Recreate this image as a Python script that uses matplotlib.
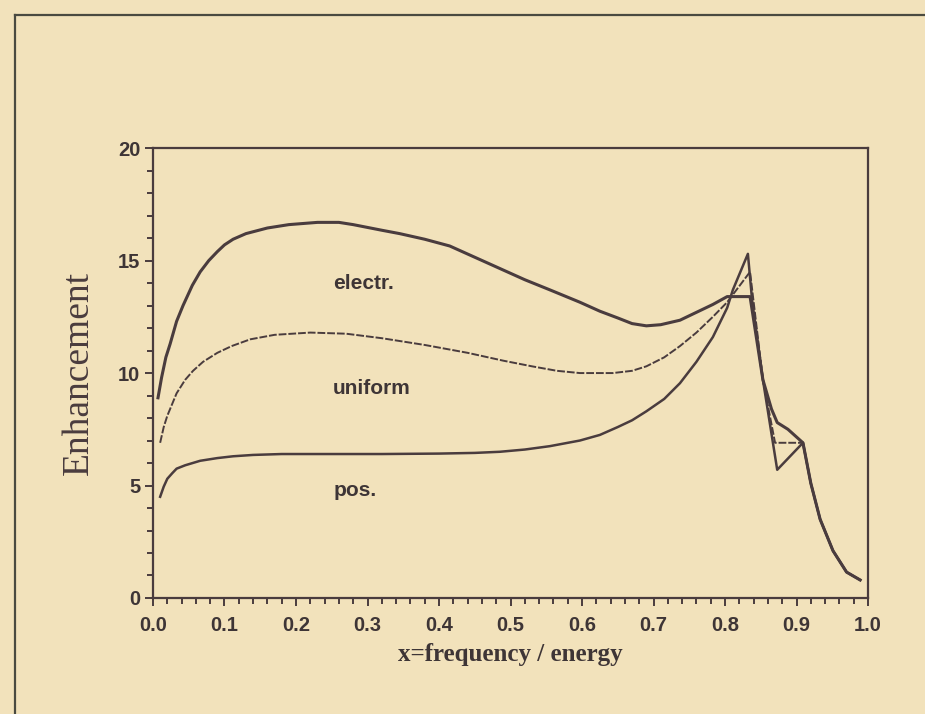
import matplotlib
matplotlib.use("Agg")
import matplotlib.pyplot as plt
from matplotlib.lines import Line2D

# values
electr_x = [0.007, 0.012, 0.018, 0.024, 0.033, 0.042, 0.055, 0.066, 0.078, 0.09, 0.1, 0.112,
            0.13, 0.16, 0.19, 0.23, 0.26, 0.28, 0.32, 0.345, 0.38, 0.415, 0.45, 0.485, 0.52,
            0.555, 0.597, 0.625, 0.65, 0.67, 0.69, 0.71, 0.737, 0.76, 0.783, 0.803,
            0.835, 0.853, 0.865, 0.873, 0.888, 0.909]
electr_y = [8.9, 9.8, 10.7, 11.3, 12.3, 13.0, 13.9, 14.5, 15.0, 15.4, 15.7, 15.95,
            16.2, 16.45, 16.6, 16.7, 16.7, 16.6, 16.35, 16.2, 15.95, 15.65, 15.15, 14.65, 14.15,
            13.7, 13.15, 12.75, 12.45, 12.2, 12.1, 12.15, 12.35, 12.7, 13.05, 13.4,
            13.4, 9.7, 8.4, 7.8, 7.5, 6.9]

uniform_x = [0.01, 0.015, 0.02, 0.033, 0.045, 0.056, 0.07, 0.09, 0.11, 0.136, 0.17, 0.22,
             0.27, 0.32, 0.38, 0.44, 0.49, 0.53, 0.565, 0.597, 0.643, 0.67, 0.69, 0.715,
             0.737, 0.76, 0.783, 0.803, 0.835, 0.853, 0.87, 0.909]
uniform_y = [6.9, 7.6, 8.1, 9.1, 9.7, 10.1, 10.5, 10.9, 11.2, 11.5, 11.7, 11.8,
             11.75, 11.55, 11.25, 10.9, 10.55, 10.3, 10.1, 10.0, 10.0, 10.1, 10.3, 10.7,
             11.2, 11.8, 12.5, 13.15, 14.5, 9.7, 6.9, 6.9]

pos_x = [0.01, 0.015, 0.02, 0.027, 0.033, 0.045, 0.066, 0.09, 0.112, 0.14, 0.18, 0.25,
         0.32, 0.4, 0.45, 0.485, 0.52, 0.555, 0.597, 0.625, 0.65, 0.67, 0.69, 0.715,
         0.737, 0.76, 0.783, 0.803, 0.811, 0.832, 0.838, 0.853, 0.873, 0.909]
pos_y = [4.5, 4.95, 5.3, 5.55, 5.75, 5.9, 6.1, 6.22, 6.3, 6.36, 6.4, 6.4,
         6.4, 6.42, 6.45, 6.5, 6.6, 6.75, 7.0, 7.25, 7.6, 7.9, 8.3, 8.85,
         9.55, 10.5, 11.6, 12.9, 13.7, 15.3, 13.2, 9.7, 5.7, 6.9]

# common tail after x~0.91
tail_x = [0.92, 0.933, 0.951, 0.97, 0.989]
tail_y = [5.1, 3.5, 2.1, 1.15, 0.8]

labels = ["electr.", "uniform", "pos."]
label_pos = [(0.252, 14.0), (0.252, 9.3), (0.252, 4.8)]

paper = "#f2e2bb"
ink = "#4a3c3e"
text_ink = "#3e3536"

fig = plt.figure(figsize=(9.25, 7.14), dpi=100, facecolor=paper)
ax = fig.add_axes([0.1654, 0.1625, 0.773, 0.630])
ax.set_facecolor(paper)

ax.plot(electr_x + tail_x, electr_y + tail_y, color=ink, lw=2.2, solid_joinstyle="round")
ax.plot(uniform_x + tail_x, uniform_y + tail_y, color=ink, lw=1.4, dashes=(4, 1))
ax.plot(pos_x + tail_x, pos_y + tail_y, color=ink, lw=1.8, solid_joinstyle="round")

for lab, (lx, ly) in zip(labels, label_pos):
    ax.text(lx, ly, lab, fontsize=15, fontweight="bold", color=text_ink,
            family="Liberation Sans", va="center", ha="left")

ax.set_xlim(0, 1.0)
ax.set_ylim(0, 20)
ax.set_xticks([0.0, 0.1, 0.2, 0.3, 0.4, 0.5, 0.6, 0.7, 0.8, 0.9, 1.0])
ax.set_xticks([i * 0.02 for i in range(51)], minor=True)
ax.set_yticks([0, 5, 10, 15, 20])
ax.set_yticks(range(21), minor=True)
ax.set_xticklabels(["0.0", "0.1", "0.2", "0.3", "0.4", "0.5", "0.6", "0.7", "0.8", "0.9", "1.0"])
ax.tick_params(which="major", direction="out", length=6, width=1.4, color=ink,
               labelsize=14.5, labelcolor=text_ink)
ax.tick_params(axis="x", which="major", pad=7)
ax.tick_params(axis="y", which="major", pad=3)
ax.tick_params(which="minor", direction="out", length=4.5, width=1.4, color=ink)
for t in ax.get_xticklabels() + ax.get_yticklabels():
    t.set_fontweight("bold")
    t.set_family("Liberation Sans")
for s in ax.spines.values():
    s.set_color(ink)
    s.set_linewidth(1.6)

ax.set_xlabel("x=frequency / energy", family="Liberation Serif", fontsize=18,
              fontweight="bold", color=text_ink, labelpad=6)
ax.set_ylabel("Enhancement", family="Liberation Serif", fontsize=27,
              color=ink, labelpad=16)

# frame of the scanned page
fig.add_artist(Line2D([15 / 925, 15 / 925], [0, 1 - 15 / 714], color="#4a4a40", lw=1.6))
fig.add_artist(Line2D([15 / 925, 1], [1 - 15 / 714, 1 - 15 / 714], color="#4a4a40", lw=1.6))

fig.savefig("out.png", dpi=100, facecolor=paper)
